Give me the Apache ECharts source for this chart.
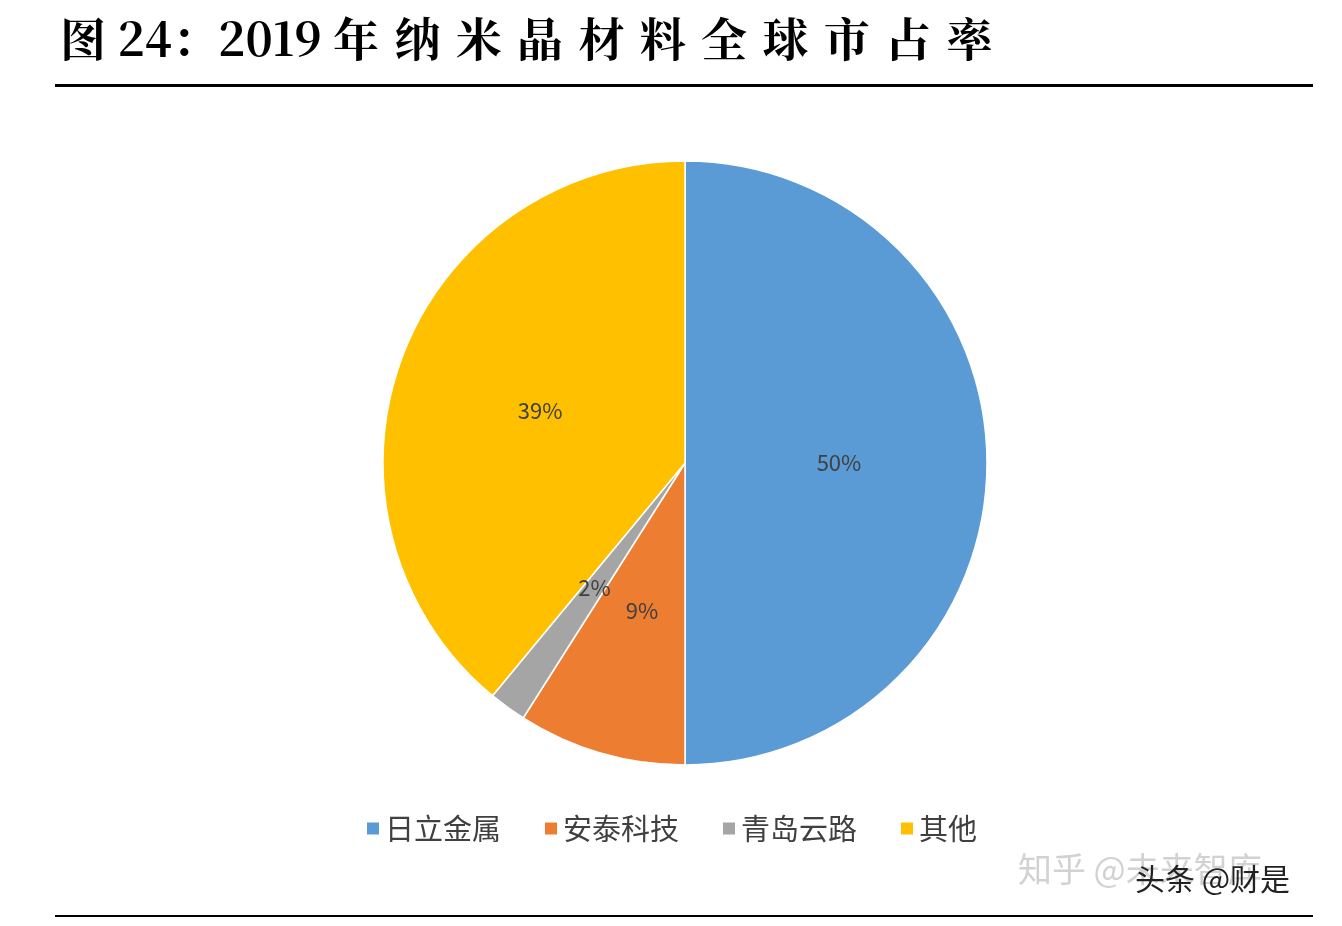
<!DOCTYPE html>
<html><head><meta charset="utf-8">
<script src="https://cdn.jsdelivr.net/npm/echarts@6/dist/echarts.min.js"></script>
<style>html,body{margin:0;padding:0;background:#fff}#c{width:1342px;height:926px}</style>
</head><body><div id="c"></div>
<script>
const categories = ['日立金属','安泰科技','青岛云路','其他'];
const values = [50, 9, 2, 39];
const colors = ['#5B9BD5','#ED7D31','#A5A5A5','#FFC000'];
const chart = echarts.init(document.getElementById('c'));
chart.setOption({
  animation:false,
  graphic:[
    {type:'text',left:60,top:16,style:{text:'图 24：2019 年\u2004纳\u2004米\u2004晶\u2004材\u2004料\u2004全\u2004球\u2004市\u2004占\u2004率',font:'bold 46px "Noto Serif CJK SC","Noto Sans CJK SC",serif',fill:'#000'}},
    {type:'rect',shape:{x:55,y:84,width:1258,height:3},style:{fill:'#000'}},
    {type:'rect',shape:{x:55,y:915,width:1258,height:2},style:{fill:'#000'}},
    {type:'text',left:1018,top:852,style:{text:'知乎 @未来智库',font:'34px "Noto Sans CJK SC"',fill:'rgba(180,180,180,0.6)'}},
    {type:'text',left:1135,top:864,style:{text:'头条 @财是',font:'30px "Noto Sans CJK SC"',fill:'#222'}}
  ],
  legend:{bottom:78,left:'center',itemWidth:14,itemHeight:14,itemGap:42,icon:'rect',
    textStyle:{fontSize:29,color:'#404040',fontFamily:'Noto Sans CJK SC'}},
  series:[{type:'pie',center:[685,463],radius:302,startAngle:90,clockwise:true,
    itemStyle:{borderColor:'#fff',borderWidth:1.5},
    label:{position:'inner',formatter:'{d}%',fontSize:22,color:'#404040',fontFamily:'Noto Sans CJK SC'},
    labelLine:{show:false},
    data:categories.map((n,i)=>({name:n,value:values[i],itemStyle:{color:colors[i]}}))
  }]
});
</script></body></html>
